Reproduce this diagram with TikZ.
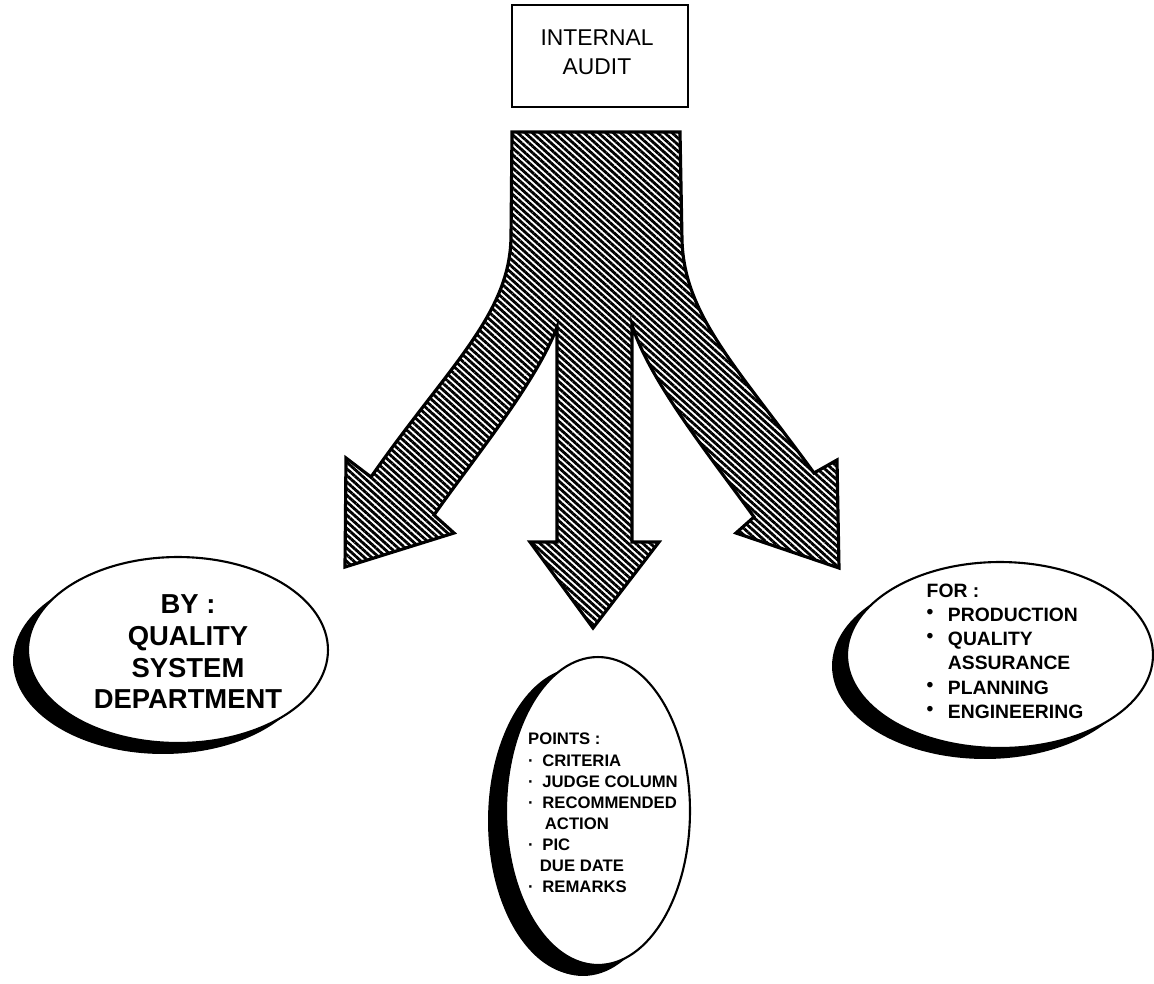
\documentclass[tikz,border=0pt]{standalone}
\usepackage{fontspec}
\setmainfont{Liberation Sans}
\usetikzlibrary{shapes.geometric,shadows,patterns.meta}

\newcommand{\bul}{\makebox[1.1em][l]{\raisebox{0.25ex}{\textbullet}}}
\newcommand{\ptdot}{\makebox[0.85em][l]{\textperiodcentered}}

\begin{document}
\begin{tikzpicture}[x=0.02cm, y=-0.02cm,
    bubble/.style={ellipse, draw, fill=white, line width=1.2pt, inner sep=0pt,
      general shadow={fill=black, shadow xshift=-0.3cm, shadow yshift=-0.22cm}},
    hatch/.style={draw, line width=1.8pt, line join=miter,
      pattern={Lines[angle=-42, distance=2.8pt, line width=1.6pt]}},
    lettering/.style={align=#1, inner sep=0pt, font=\bfseries}]
  \useasboundingbox (0,0) rectangle (1154,984);
  % ------- top: the audit box -------
  \node[draw, line width=1.1pt, minimum width=3.52cm, minimum height=2.04cm,
    align=center, font=\fontsize{13}{16.4}\selectfont] (audit) at (600,56) {};
  \node[align=center, inner sep=0pt, font=\fontsize{13}{16.4}\selectfont] (auditText) at (597,52) {INTERNAL\\AUDIT};
  % ------- the forked arrow -------
  \draw[hatch] (512,132) -- (680,132) -- (682,240)
    .. controls (684,315) and (736,366) .. (814,473)
    -- (837,460) -- (839,568) -- (736,533) -- (754,517)
    .. controls (713,460) and (650,382) .. (632,325)
    -- (632,542) -- (659,542) -- (593,628) -- (530,542) -- (557,542) -- (557,327)
    .. controls (536,383) and (474,458) .. (434,515)
    -- (454,533) -- (345,567) -- (346,458) -- (371,477)
    .. controls (447,368) and (510,315) .. (511,237) -- cycle;
  % ------- left: who audits -------
  \node[bubble, minimum width=6cm, minimum height=3.72cm] (byDept) at (178,650) {};
  \node[lettering=center, font=\bfseries\fontsize{15.6}{18}\selectfont] (byText) at (188,652)
    {BY :\\QUALITY\\SYSTEM\\DEPARTMENT};
  % ------- middle: what is checked -------
  \node[bubble, minimum width=3.68cm, minimum height=6.16cm,
    general shadow={fill=black, shadow xshift=-0.36cm, shadow yshift=-0.2cm}] (points) at (598,811) {};
  \node[lettering=left, font=\bfseries\fontsize{9.5}{12}\selectfont] (pointsText) at (603,813)
    {POINTS :\\ \ptdot CRITERIA\\ \ptdot JUDGE COLUMN\\ \ptdot RECOMMENDED\\
     \hspace*{1em}ACTION\\ \ptdot PIC\\ \hspace*{0.7em}DUE DATE\\ \ptdot REMARKS};
  % ------- right: for whom -------
  \node[bubble, minimum width=6.12cm, minimum height=3.72cm] (forDept) at (1000,655) {};
  \node[lettering=left, font=\bfseries\fontsize{11}{13.8}\selectfont] (forText) at (1005,651)
    {FOR :\\ \bul PRODUCTION\\ \bul QUALITY\\ \hspace*{1.1em}ASSURANCE\\ \bul PLANNING\\ \bul ENGINEERING};
\end{tikzpicture}
\end{document}
